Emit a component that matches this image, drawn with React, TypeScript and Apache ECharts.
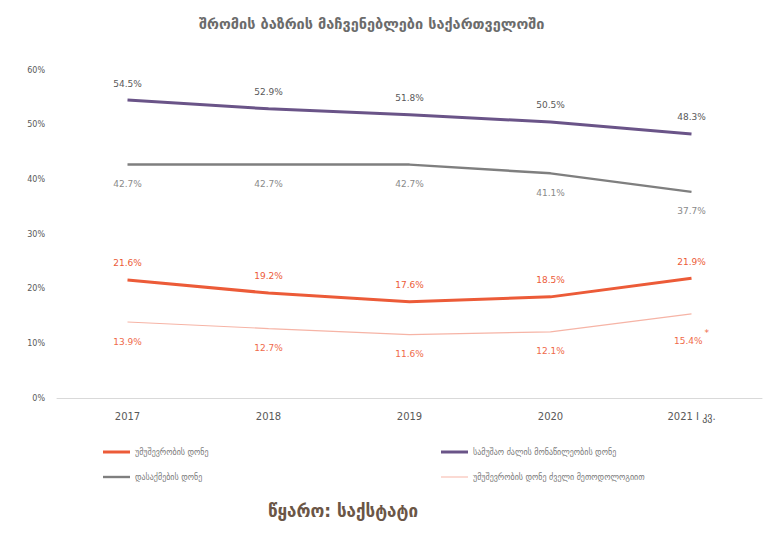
import React, { useEffect, useRef } from "react";
import * as echarts from "echarts";

const categories = ["2017", "2018", "2019", "2020", "2021 I კვ."];
const unemployment = [21.6, 19.2, 17.6, 18.5, 21.9];
const participation = [54.5, 52.9, 51.8, 50.5, 48.3];
const employment = [42.7, 42.7, 42.7, 41.1, 37.7];
const unemploymentOld = [13.9, 12.7, 11.6, 12.1, 15.4];
const yTicks = [0, 10, 20, 30, 40, 50, 60];

const names = [
  "უმუშევრობის დონე",
  "სამუშაო ძალის მონაწილეობის დონე",
  "დასაქმების დონე",
  "უმუშევრობის დონე ძველი მეთოდოლოგიით",
];

const FONT = "'DejaVu Sans', sans-serif";

export default function App() {
  const ref = useRef<HTMLDivElement>(null);
  useEffect(() => {
    if (!ref.current) return;
    const chart = echarts.init(ref.current, undefined, { renderer: "svg" });
    const lbl = (pos: string, color: string) => ({
      show: true,
      position: pos,
      distance: pos === "top" ? 12 : 15,
      color,
      fontSize: 9,
      fontFamily: FONT,
      formatter: (p: any) => Number(p.value).toFixed(1) + "%",
    });
    const sym = { symbol: "circle", symbolSize: 0.1, showSymbol: true };
    chart.setOption({
      animation: false,
      backgroundColor: "#ffffff",
      textStyle: { fontFamily: FONT },
      title: {
        text: "შრომის ბაზრის მაჩვენებლები საქართველოში",
        left: 194,
        top: 11,
        textStyle: { fontSize: 14.5, fontWeight: "bold", color: "#6b6b6b", fontFamily: FONT },
      },
      grid: { left: 57, right: 5, top: 70, bottom: 146, containLabel: false },
      xAxis: {
        type: "category",
        data: categories,
        boundaryGap: true,
        axisLine: { lineStyle: { color: "#d9d9d9", width: 1 } },
        axisTick: { show: false },
        axisLabel: { color: "#595959", fontSize: 10, margin: 13, fontFamily: FONT },
      },
      yAxis: {
        type: "value",
        min: yTicks[0],
        max: yTicks[yTicks.length - 1],
        interval: 10,
        splitLine: { show: false },
        axisLine: { show: false },
        axisTick: { show: false },
        axisLabel: { color: "#595959", fontSize: 8, margin: 12, formatter: "{value}%", fontFamily: FONT },
      },
      legend: [
        {
          orient: "vertical",
          left: 98,
          top: 443,
          itemWidth: 27,
          itemHeight: 3,
          itemGap: 17,
          textStyle: { fontSize: 8, color: "#7a7a7a", fontFamily: FONT },
          data: [
            { name: names[0], icon: "path://M0 0H27V3H0Z" },
            { name: names[2], icon: "path://M0 0H27V2.4H0Z" },
          ],
        },
        {
          orient: "vertical",
          left: 436,
          top: 443,
          itemWidth: 27,
          itemHeight: 3,
          itemGap: 17,
          textStyle: { fontSize: 8, color: "#7a7a7a", fontFamily: FONT },
          data: [
            { name: names[1], icon: "path://M0 0H27V3H0Z" },
            { name: names[3], icon: "path://M0 0H27V1H0Z" },
          ],
        },
      ],
      series: [
        {
          name: names[0],
          type: "line",
          data: unemployment,
          ...sym,
          color: "#ec5b38",
          lineStyle: { width: 3, color: "#ec5b38" },
          label: lbl("top", "#ec5b38"),
        },
        {
          name: names[1],
          type: "line",
          data: participation,
          ...sym,
          color: "#6a5488",
          lineStyle: { width: 3, color: "#6a5488" },
          label: lbl("top", "#595959"),
        },
        {
          name: names[2],
          type: "line",
          data: employment,
          ...sym,
          color: "#7f7f7f",
          lineStyle: { width: 2.4, color: "#7f7f7f" },
          label: lbl("bottom", "#8a8a8a"),
        },
        {
          name: names[3],
          type: "line",
          data: unemploymentOld.map((v, i) =>
            i === unemploymentOld.length - 1
              ? {
                  value: v,
                  label: {
                    formatter: (p: any) => "{a|" + Number(p.value).toFixed(1) + "%}{s|*}",
                    rich: {
                      a: { fontSize: 9, color: "#ef6a4a", fontFamily: FONT },
                      s: { fontSize: 9, color: "#ef6a4a", fontFamily: FONT, padding: [0, 0, 16, 2] },
                    },
                  },
                }
              : v
          ),
          ...sym,
          color: "#f6b4a6",
          lineStyle: { width: 1.2, color: "#f6b4a6" },
          label: lbl("bottom", "#ef6a4a"),
        },
      ],
      graphic: [
        {
          type: "text",
          left: 268,
          top: 502,
          style: {
            text: "წყარო: საქსტატი",
            fontSize: 17,
            fontWeight: "bold",
            fill: "#6b5646",
            fontFamily: FONT,
          },
        },
      ],
    });
    return () => chart.dispose();
  }, []);
  return <div ref={ref} style={{ width: 767, height: 544, position: "absolute", left: 0, top: 0 }} />;
}
